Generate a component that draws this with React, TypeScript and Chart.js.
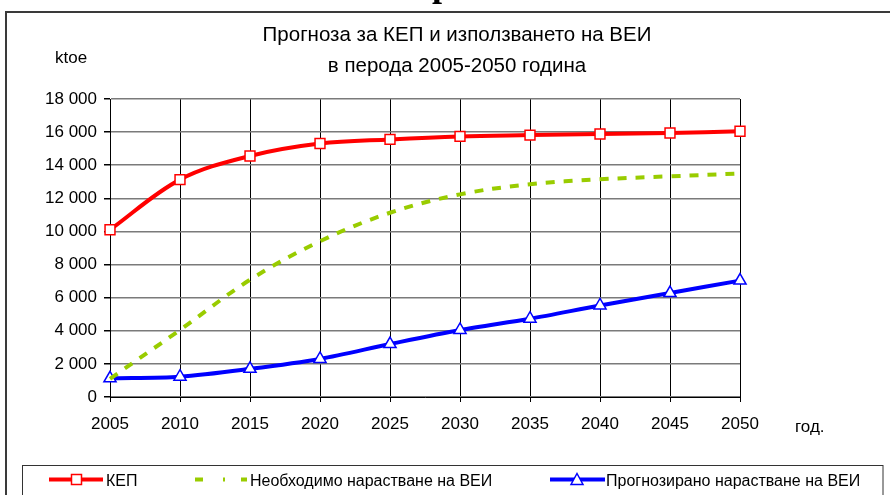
import { useEffect, useRef } from 'react';
import { Chart, registerables } from 'chart.js';

Chart.register(...registerables);

const years = ['2005', '2010', '2015', '2020', '2025', '2030', '2035', '2040', '2045', '2050'];
const kep = [10100, 13130, 14560, 15310, 15560, 15740, 15820, 15890, 15950, 16050];
const neededRes = [1100, 4050, 7080, 9410, 11130, 12240, 12850, 13150, 13330, 13500];
const forecastRes = [1130, 1230, 1700, 2300, 3200, 4050, 4730, 5530, 6280, 7030];

const titleLines = ['Прогноза за КЕП и използването на ВЕИ', 'в перода 2005-2050 година'];
const yUnit = 'ktoe';
const xUnit = 'год.';
const seriesNames = ['КЕП', 'Необходимо нарастване на ВЕИ', 'Прогнозирано нарастване на ВЕИ'];
const yMin = 0;
const yMax = 18000;
const yStep = 2000;

const FONT = '"Liberation Sans", Arial, sans-serif';
const RED = '#ff0000';
const GREEN = '#99cc00';
const BLUE = '#0000ff';

function fmt(v: number): string {
  if (v < 1000) return String(v);
  const th = Math.floor(v / 1000);
  const rest = String(v % 1000).padStart(3, '0');
  return `${th} ${rest}`;
}

const overlay = {
  id: 'overlay',
  beforeDraw(chart: any) {
    const ctx = chart.ctx;
    ctx.save();
    ctx.fillStyle = '#ffffff';
    ctx.fillRect(0, 0, chart.width, chart.height);
    ctx.restore();
  },
  afterDraw(chart: any) {
    const ctx = chart.ctx;
    ctx.save();
    // cropped heading glyph
    ctx.fillStyle = '#000';
    ctx.font = 'bold 36px "Liberation Serif", "Times New Roman", serif';
    ctx.textAlign = 'center';
    ctx.textBaseline = 'alphabetic';
    ctx.fillText('р', 442, -4);

    // outer frame
    ctx.strokeStyle = '#3a3a3a';
    ctx.lineWidth = 2;
    ctx.beginPath();
    ctx.moveTo(6, 500);
    ctx.lineTo(6, 12);
    ctx.lineTo(895, 12);
    ctx.stroke();

    // title
    ctx.fillStyle = '#000';
    ctx.font = `20.5px ${FONT}`;
    ctx.textAlign = 'center';
    ctx.fillText(titleLines[0], 457, 41);
    ctx.fillText(titleLines[1], 457, 72);

    // axis units
    ctx.font = `17px ${FONT}`;
    ctx.textAlign = 'left';
    ctx.fillText(yUnit, 55, 63);
    ctx.fillText(xUnit, 795, 432);

    // legend box
    ctx.strokeStyle = '#333';
    ctx.lineWidth = 1;
    ctx.strokeRect(22.5, 465.5, 860.5, 40);

    const ly = 479.5;
    ctx.lineCap = 'butt';
    // red item
    ctx.strokeStyle = RED;
    ctx.lineWidth = 4;
    ctx.beginPath();
    ctx.moveTo(49, ly);
    ctx.lineTo(103, ly);
    ctx.stroke();
    ctx.fillStyle = '#fff';
    ctx.lineWidth = 1.5;
    ctx.fillRect(71.5, ly - 5, 10, 10);
    ctx.strokeRect(71.5, ly - 5, 10, 10);

    // green item
    ctx.strokeStyle = GREEN;
    ctx.lineWidth = 4;
    ctx.setLineDash([8, 20, 2, 16]);
    ctx.beginPath();
    ctx.moveTo(195, ly);
    ctx.lineTo(247, ly);
    ctx.stroke();
    ctx.setLineDash([]);

    // blue item
    ctx.strokeStyle = BLUE;
    ctx.lineWidth = 4;
    ctx.beginPath();
    ctx.moveTo(550, ly);
    ctx.lineTo(605, ly);
    ctx.stroke();
    ctx.fillStyle = '#fff';
    ctx.lineWidth = 1.5;
    ctx.beginPath();
    ctx.moveTo(577, ly - 6);
    ctx.lineTo(583, ly + 5);
    ctx.lineTo(571, ly + 5);
    ctx.closePath();
    ctx.fill();
    ctx.stroke();

    ctx.fillStyle = '#000';
    ctx.font = `16px ${FONT}`;
    ctx.textAlign = 'left';
    ctx.textBaseline = 'alphabetic';
    ctx.fillText(seriesNames[0], 106, 486);
    ctx.fillText(seriesNames[1], 250, 486);
    ctx.fillText(seriesNames[2], 606, 486);
    ctx.restore();
  },
};

export default function App() {
  const ref = useRef<HTMLCanvasElement | null>(null);

  useEffect(() => {
    if (!ref.current) return;
    const chart = new Chart(ref.current, {
      type: 'line',
      data: {
        labels: years,
        datasets: [
          {
            label: seriesNames[0],
            data: kep,
            borderColor: RED,
            backgroundColor: '#ffffff',
            borderWidth: 4,
            tension: 0.35,
            pointStyle: 'rect',
            pointRadius: 7,
            pointBorderWidth: 1.5,
            pointBorderColor: RED,
            pointBackgroundColor: '#ffffff',
            clip: false,
          },
          {
            label: seriesNames[1],
            data: neededRes,
            borderColor: GREEN,
            borderWidth: 4,
            borderDash: [9, 9],
            borderCapStyle: 'butt',
            tension: 0.35,
            pointRadius: 0,
            clip: false,
          },
          {
            label: seriesNames[2],
            data: forecastRes,
            borderColor: BLUE,
            backgroundColor: '#ffffff',
            borderWidth: 4,
            tension: 0.3,
            pointStyle: 'triangle',
            pointRadius: 7,
            pointBorderWidth: 1.5,
            pointBorderColor: BLUE,
            pointBackgroundColor: '#ffffff',
            clip: false,
          },
        ],
      },
      options: {
        animation: false,
        responsive: false,
        maintainAspectRatio: false,
        devicePixelRatio: 1,
        layout: { padding: { top: 99, left: 0, right: 150, bottom: 58 } },
        plugins: {
          legend: { display: false },
          title: { display: false },
          tooltip: { enabled: false },
        },
        scales: {
          x: {
            type: 'category',
            offset: false,
            afterFit: (s: any) => { s.height = 40; },
            grid: {
              color: '#000000',
              lineWidth: 1,
              tickLength: 5,
              tickColor: '#000000',
              drawOnChartArea: true,
            },
            border: { color: '#000000', width: 1 },
            ticks: {
              color: '#000',
              font: { family: FONT, size: 17 },
              padding: 12,
              maxRotation: 0,
              autoSkip: false,
            },
          },
          y: {
            min: yMin,
            max: yMax,
            afterFit: (s: any) => { s.width = 110; },
            grid: {
              color: '#7a7a7a',
              lineWidth: 1.5,
              tickLength: 6,
              tickColor: '#000000',
            },
            border: { color: '#000000', width: 1 },
            ticks: {
              stepSize: yStep,
              color: '#000',
              font: { family: FONT, size: 17 },
              padding: 7,
              callback: (v: any) => fmt(Number(v)),
            },
          },
        },
      },
      plugins: [overlay],
    });
    return () => chart.destroy();
  }, []);

  return (
    <div style={{ position: 'absolute', left: 0, top: 0, width: 890, height: 495, background: '#fff' }}>
      <canvas ref={ref} width={890} height={495} style={{ display: 'block', width: 890, height: 495 }} />
    </div>
  );
}
